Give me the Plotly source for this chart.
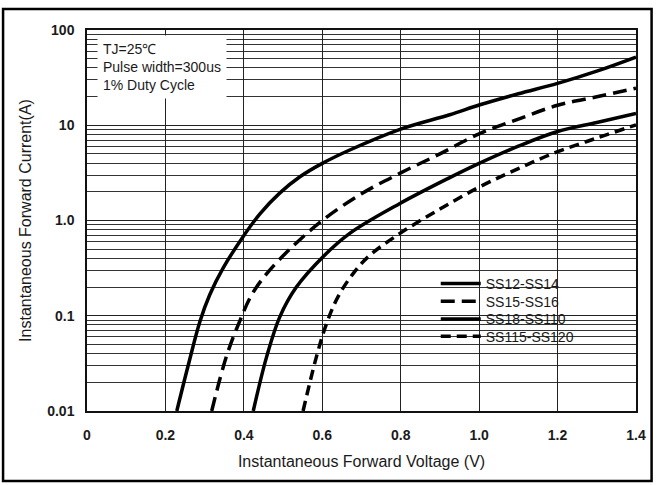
import plotly.graph_objects as go

# ---- data ----
v_ss12 = [0.229, 0.258, 0.288, 0.313, 0.347, 0.398, 0.441, 0.492, 0.543, 0.60, 0.67, 0.80, 0.925, 1.00, 1.10, 1.20, 1.30, 1.40]
i_ss12 = [0.01, 0.030, 0.087, 0.166, 0.316, 0.676, 1.175, 1.95, 2.88, 3.98, 5.5, 9.12, 12.9, 16.3, 21.4, 27.5, 37.0, 52.0]

v_ss15 = [0.318, 0.356, 0.39, 0.42, 0.46, 0.52, 0.60, 0.70, 0.80, 0.90, 1.00, 1.10, 1.20, 1.30, 1.40]
i_ss15 = [0.01, 0.038, 0.089, 0.166, 0.282, 0.513, 1.0, 1.91, 3.16, 5.01, 8.13, 11.6, 16.2, 19.9, 24.5]

v_ss18 = [0.424, 0.458, 0.492, 0.534, 0.602, 0.67, 0.798, 0.925, 1.00, 1.10, 1.20, 1.30, 1.40]
i_ss18 = [0.01, 0.037, 0.098, 0.20, 0.417, 0.733, 1.51, 2.82, 3.98, 6.03, 8.6, 10.7, 13.3]

v_ss115 = [0.551, 0.585, 0.611, 0.64, 0.68, 0.72, 0.80, 0.90, 1.00, 1.10, 1.20, 1.30, 1.40]
i_ss115 = [0.01, 0.037, 0.083, 0.158, 0.282, 0.427, 0.741, 1.32, 2.24, 3.51, 5.28, 7.33, 10.1]

series_names = ["SS12-SS14", "SS15-SS16", "SS18-SS110", "SS115-SS120"]

x_tickvals = [0, 0.2, 0.4, 0.6, 0.8, 1.0, 1.2, 1.4]
x_ticktext = ["0", "0.2", "0.4", "0.6", "0.8", "1.0", "1.2", "1.4"]
y_tickvals = [0.01, 0.1, 1, 10, 100]
y_ticktext = ["0.01", "0.1", "1.0", "10", "100"]

FONT = "Liberation Sans, Arial, sans-serif"
TXT = "#1a1a1a"

# plot area in pixels: left 87, right 636.4, top 30, bottom 411
L, R, T, B = 87, 636.4, 30, 411
W, H = 657, 485
PW, PH = R - L, B - T

def px_x(x):
    return (x - L) / PW

def px_y(y):
    return (B - y) / PH

fig = go.Figure()
dashes = ["solid", "14px,7px", "solid", "10px,6px"]
legend_ids = ["legend", "legend2", "legend3", "legend4"]
for (xv, yv), name, dash, lg in zip(
        [(v_ss12, i_ss12), (v_ss15, i_ss15), (v_ss18, i_ss18), (v_ss115, i_ss115)],
        series_names, dashes, legend_ids):
    fig.add_trace(go.Scatter(
        x=xv, y=yv, name=name, mode="lines", legend=lg,
        line=dict(color="black", width=3.5, shape="spline", smoothing=1.0, dash=dash),
    ))

leg_rows = [284, 301.7, 319.3, 336.7]
legend_common = dict(
    xanchor="left", yanchor="middle", bgcolor="rgba(0,0,0,0)", borderwidth=0,
    font=dict(family=FONT, size=14, color=TXT), itemwidth=40,
)
layout_legends = {}
for lg, row in zip(legend_ids, leg_rows):
    layout_legends[lg] = dict(x=px_x(436), y=px_y(row), **legend_common)

fig.update_layout(
    width=W, height=H,
    margin=dict(l=L, r=W - R, t=T, b=H - B, autoexpand=False),
    paper_bgcolor="white", plot_bgcolor="white",
    font=dict(family=FONT, color=TXT, size=14),
    showlegend=True,
    **layout_legends,
)

fig.update_xaxes(
    range=[0, 1.4], tickvals=x_tickvals, ticktext=x_ticktext,
    showgrid=True, gridcolor="#222", gridwidth=1.2,
    showline=True, linecolor="#111", linewidth=1.5, mirror=True,
    ticks="", ticklabelstandoff=10, zeroline=False, automargin=False,
    tickfont=dict(family=FONT, size=14, color=TXT, weight="bold"),
    title=dict(text="Instantaneous Forward Voltage (V)", standoff=14,
               font=dict(family=FONT, size=16, color=TXT)),
)
fig.update_yaxes(
    type="log", range=[-2, 2], tickvals=y_tickvals, ticktext=y_ticktext,
    showgrid=True, gridcolor="#222", gridwidth=1.2,
    minor=dict(showgrid=True, gridcolor="#333", gridwidth=1, dtick="D1", ticks=""),
    showline=True, linecolor="#111", linewidth=1.5, mirror=True,
    ticks="", ticklabelstandoff=8, zeroline=False, automargin=False,
    tickfont=dict(family=FONT, size=14, color=TXT, weight="bold"),
    title=dict(text="Instantaneous Forward Current(A)", standoff=12,
               font=dict(family=FONT, size=16, color=TXT)),
)

# white background behind the legend (covers the grid like the original)
fig.add_shape(type="rect", xref="paper", yref="paper",
              x0=px_x(437), x1=1.0, y0=px_y(352), y1=px_y(273),
              fillcolor="white", line=dict(width=0), layer="between")

fig.add_annotation(
    xref="paper", yref="paper", x=px_x(97), y=px_y(35), xanchor="left", yanchor="top",
    text="TJ=25\u2103<br>Pulse width=300us<br>1% Duty Cycle",
    showarrow=False, align="left", bgcolor="white", borderpad=5,
    font=dict(family=FONT, size=14, color=TXT),
)

# outer frame of the picture
fig.add_shape(type="rect", xref="paper", yref="paper",
              x0=px_x(3), x1=px_x(652), y0=px_y(481), y1=px_y(9),
              line=dict(color="black", width=2.5), layer="above")

fig.write_html("out.html",
               config={"displayModeBar": False},
               post_script="document.body.style.margin='0';document.body.style.overflow='hidden';")
